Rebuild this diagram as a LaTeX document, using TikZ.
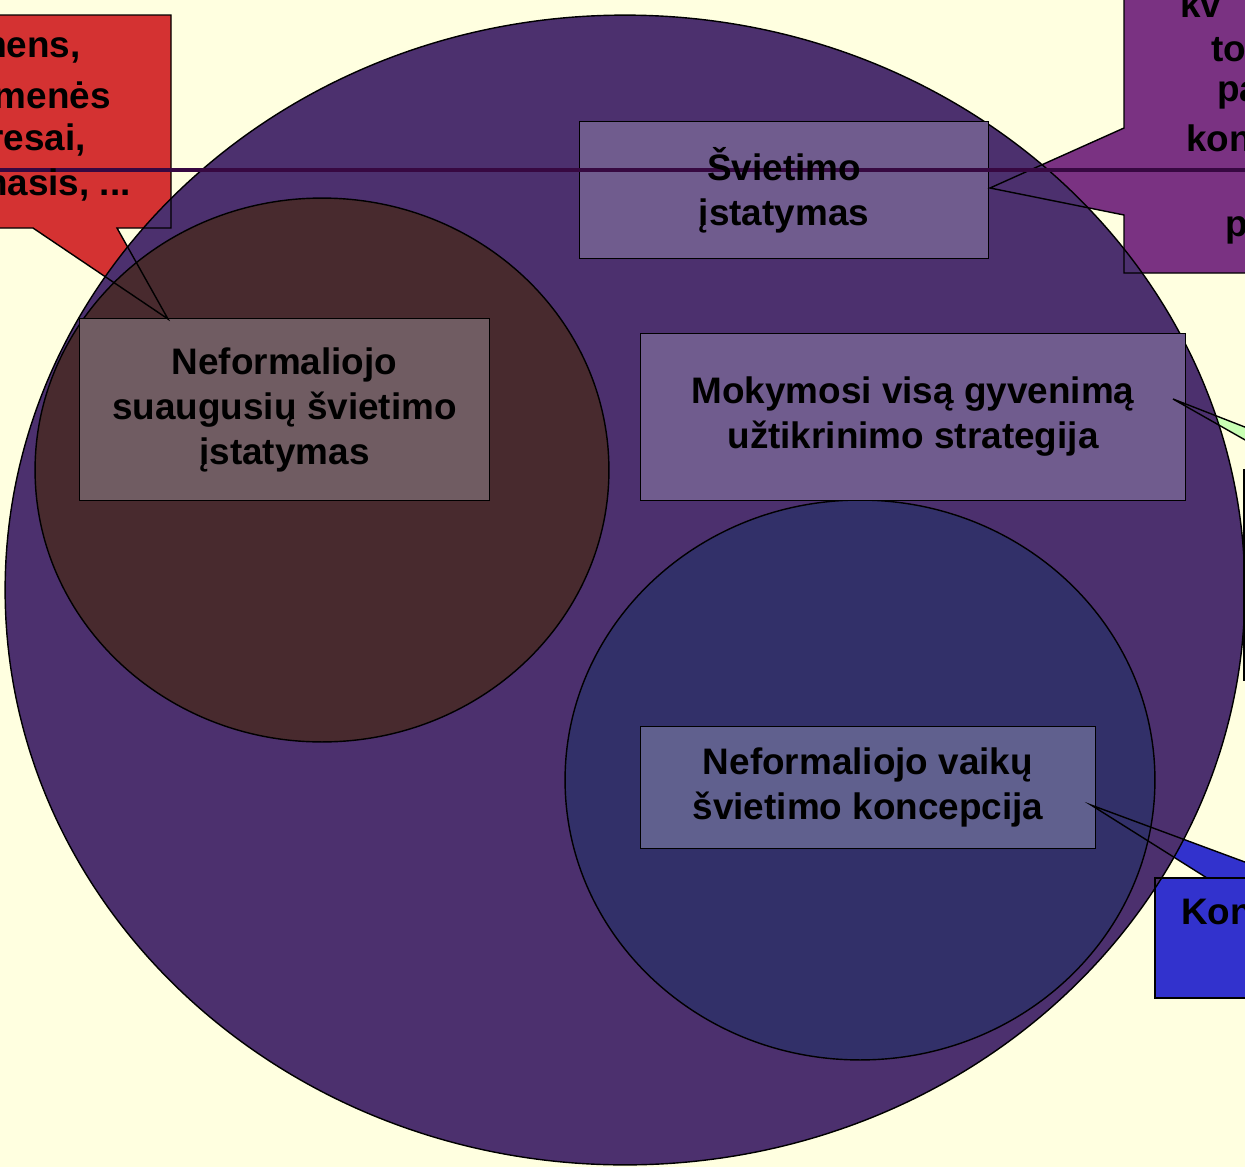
\documentclass[tikz,border=0pt]{standalone}
\usepackage{fontspec}
\setmainfont{Liberation Sans}
\usepackage{tikz}
\usetikzlibrary{positioning}
\usetikzlibrary{patterns}
\definecolor{bgyellow}{RGB}{255,255,224}
\definecolor{bigpurple}{RGB}{76,48,110}
\definecolor{browncirc}{RGB}{72,42,46}
\definecolor{bluecirc}{RGB}{50,48,105}
\definecolor{boxbrown}{RGB}{112,92,98}
\definecolor{boxpurple}{RGB}{112,92,142}
\definecolor{boxblue}{RGB}{96,96,142}
\definecolor{calred}{RGB}{212,50,50}
\definecolor{calpurple}{RGB}{122,50,130}
\definecolor{calgreen}{RGB}{200,255,180}
\definecolor{calblue}{RGB}{50,50,205}
\definecolor{rulecol}{RGB}{55,8,65}
\pgfdeclarelayer{shapes}
\pgfdeclarelayer{rule}
\pgfsetlayers{shapes,rule,main}
\tikzset{
  lawbox/.style={inner sep=0pt, align=center},
  outline/.style={draw=black, line width=0.8pt},
}

\begin{document}
\begin{tikzpicture}[x=0.02cm, y=-0.02cm, font=\fontsize{21}{25.6}\selectfont\bfseries]
\useasboundingbox (0,0) rectangle (1245,1167);
% text of the boxes
\node[lawbox, minimum width=8.16cm, minimum height=2.72cm] (svietimo) at (784,190) {Švietimo\\ įstatymas};
\node[lawbox, minimum width=10.88cm, minimum height=3.32cm] (mokymosi) at (913,417) {Mokymosi visą gyvenimą\\ užtikrinimo strategija};
\node[lawbox, minimum width=8.18cm, minimum height=3.62cm] (suaugusiu) at (284.5,409.5) {Neformaliojo\\ suaugusių švietimo\\ įstatymas};
\node[lawbox, minimum width=9.08cm, minimum height=2.42cm] (vaiku) at (868,787.5) {Neformaliojo vaikų\\ švietimo koncepcija};
% callout texts (cut by the page edge)
\node[anchor=east, inner sep=0pt] (red1) at (81,50) {mens,};
\node[anchor=east, inner sep=0pt] (red2) at (111,95) {menės};
\node[anchor=east, inner sep=0pt] (red3) at (86,140) {resai,};
\node[anchor=east, inner sep=0pt] (red4) at (131,185) {nasis, ...};
\node[anchor=west, inner sep=0pt] (pur1) at (1180,4) {kv};
\node[anchor=west, inner sep=0pt] (pur2) at (1211,50) {to};
\node[anchor=west, inner sep=0pt] (pur3) at (1217,95) {pa};
\node[anchor=west, inner sep=0pt] (pur4) at (1186,138) {kon};
\node[anchor=west, inner sep=0pt] (pur5) at (1225,230) {p};
\node[anchor=west, inner sep=0pt] (blu1) at (1181,912) {Kon};
\coordinate (redtip) at (168,319);
\coordinate (purtip) at (990,188);
\coordinate (grntip) at (1173,399);
\coordinate (blutip) at (1091,805);

\begin{pgfonlayer}{shapes}
\fill[bgyellow] (0,0) rectangle (1245,1167);
% callout fills
\fill[calred] (-40,15) -- (171,15) -- (171,228) -- (117,228) -- (redtip) -- (33,228) -- (-40,228) -- cycle;
\fill[calpurple] (1124,-40) -- (1124,128) -- (purtip) -- (1124,215) -- (1124,273) -- (1300,273) -- (1300,-40) -- cycle;
\fill[calgreen] (1244,470) -- (1298,470) -- (grntip) -- (1355,470) -- (1400,470) -- (1400,680) -- (1244,680) -- cycle;
\fill[calblue] (1155,878) -- (1207,878) -- (blutip) -- (1288,878) -- (1300,878) -- (1300,998) -- (1155,998) -- cycle;
% circles
\draw[outline, fill=bigpurple] (625,590) ellipse [x radius=12.4cm, y radius=11.5cm];
\draw[outline, fill=browncirc] (322,470) ellipse [x radius=5.74cm, y radius=5.44cm];
\draw[outline, fill=bluecirc] (860,780) ellipse [x radius=5.9cm, y radius=5.6cm];
% boxes
\draw[outline, fill=boxpurple] (svietimo.south west) rectangle (svietimo.north east);
\draw[outline, fill=boxpurple] (mokymosi.south west) rectangle (mokymosi.north east);
\draw[outline, fill=boxbrown] (suaugusiu.south west) rectangle (suaugusiu.north east);
\draw[outline, fill=boxblue] (vaiku.south west) rectangle (vaiku.north east);
\end{pgfonlayer}

\begin{pgfonlayer}{rule}
% callout outlines
\draw[outline] (-40,15) -- (171,15) -- (171,228) -- (117,228) -- (redtip) -- (33,228) -- (-40,228);
\draw[outline] (1124,-40) -- (1124,128) -- (purtip) -- (1124,215) -- (1124,273) -- (1300,273);
\draw[outline] (1298,470) -- (grntip) -- (1355,470);
\draw[outline] (1400,470) -- (1244,470) -- (1244,680) -- (1400,680);
\draw[outline] (1207,878) -- (blutip) -- (1288,878) -- (1300,878);
\draw[outline] (1300,878) -- (1155,878) -- (1155,998) -- (1300,998);
\draw[rulecol, line width=2pt] (0,170) -- (1245,170);
\end{pgfonlayer}
\end{tikzpicture}
\end{document}
